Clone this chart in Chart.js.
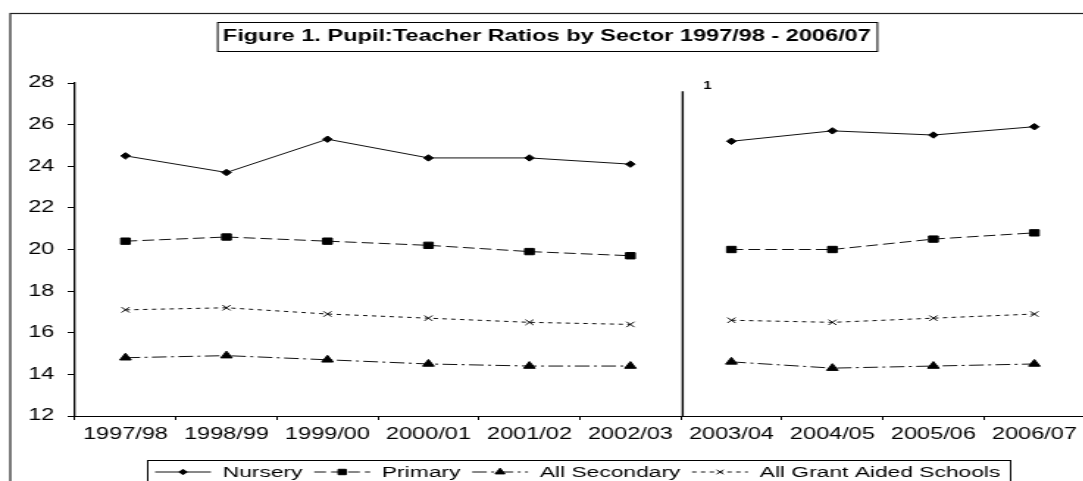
<!DOCTYPE html>
<html>
<head>
<meta charset="utf-8">
<title>Pupil:Teacher Ratios by Sector 1997/98 - 2006/07</title>
<script src="https://cdn.jsdelivr.net/npm/chart.js@4.4.1/dist/chart.umd.min.js"></script>
<style>
  html, body { margin: 0; padding: 0; background: #fff; overflow: hidden; width: 1083px; height: 481px; }
  /* the original figure is stretched sideways, so the chart is drawn narrow and widened */
  .stretch { position: absolute; left: 0; top: 0; width: 750px; height: 481px; transform: scaleX(1.47); transform-origin: 0 0; }
</style>
</head>
<body>
<div class="stretch"><canvas id="chart"></canvas></div>
<script>
const years = ['1997/98', '1998/99', '1999/00', '2000/01', '2001/02', '2002/03', '2003/04', '2004/05', '2005/06', '2006/07'];
const nursery = [24.5, 23.7, 25.3, 24.4, 24.4, 24.1, 25.2, 25.7, 25.5, 25.9];
const primary = [20.4, 20.6, 20.4, 20.2, 19.9, 19.7, 20.0, 20.0, 20.5, 20.8];
const allSecondary = [14.8, 14.9, 14.7, 14.5, 14.4, 14.4, 14.6, 14.3, 14.4, 14.5];
const grantAided = [17.1, 17.2, 16.9, 16.7, 16.5, 16.4, 16.6, 16.5, 16.7, 16.9];
const yTicks = [12, 14, 16, 18, 20, 22, 24, 26, 28];

const titleText = 'Figure 1. Pupil:Teacher Ratios by Sector 1997/98 - 2006/07';
const footnoteMark = '1';
const breakAfter = 5; // series break between 2002/03 and 2003/04
const breakLineTop = 27.6;

const FONT = '"Liberation Sans", Arial, sans-serif';
const INK = '#111';

function lineDataset(label, data, dash, pointStyle, radius) {
  return {
    label,
    data,
    borderColor: INK,
    borderWidth: 1,
    borderDash: dash,
    pointStyle,
    pointRadius: radius,
    pointHoverRadius: radius,
    pointBackgroundColor: '#000',
    pointBorderColor: '#000',
    pointBorderWidth: 1,
    tension: 0,
    segment: {
      borderColor: (ctx) => (ctx.p0DataIndex === breakAfter ? 'transparent' : INK),
    },
  };
}

const frameAndNotes = {
  id: 'frameAndNotes',
  beforeDraw(chart) {
    const { ctx } = chart;
    ctx.save();
    ctx.strokeStyle = '#222';
    ctx.lineWidth = 1.2;
    ctx.strokeRect(7, 13.5, 1000, 1000);
    ctx.restore();
  },
  afterDatasetsDraw(chart) {
    const { ctx, scales, chartArea } = chart;
    const x = (scales.x.getPixelForValue(breakAfter) + scales.x.getPixelForValue(breakAfter + 1)) / 2 + 1.2;
    ctx.save();
    ctx.strokeStyle = '#000';
    ctx.lineWidth = 1.4;
    ctx.beginPath();
    ctx.moveTo(x, scales.y.getPixelForValue(breakLineTop));
    ctx.lineTo(x, chartArea.bottom);
    ctx.stroke();
    ctx.fillStyle = '#000';
    ctx.font = `bold 10px ${FONT}`;
    ctx.textAlign = 'center';
    ctx.textBaseline = 'middle';
    ctx.fillText(footnoteMark, x + 17, 86);
    ctx.restore();
  },
  afterDraw(chart) {
    const { ctx } = chart;
    ctx.save();

    // box round the title
    ctx.font = `bold 16px ${FONT}`;
    const tw = ctx.measureText(titleText).width;
    const cx = (chart.titleBlock.left + chart.titleBlock.right) / 2;
    ctx.strokeStyle = '#000';
    ctx.lineWidth = 1;
    ctx.strokeRect(cx - tw / 2 - 3.5, 22.5, tw + 8, 29);

    // legend along the bottom
    const legendCenter = 393;
    const y = 472;
    const sample = 38;
    const gapAfterSample = 8;
    const gapAfterText = 8;
    ctx.font = `15.5px ${FONT}`;
    const items = chart.data.datasets.map((ds) => ({ ds, w: ctx.measureText(ds.label).width }));
    const total = items.reduce((sum, item) => sum + sample + gapAfterSample + item.w, 0) + gapAfterText * (items.length - 1);
    let x = legendCenter - total / 2;
    ctx.strokeRect(Math.round(x - 6) + 0.5, 460.5, total + 12, 40);

    items.forEach(({ ds, w }) => {
      ctx.strokeStyle = INK;
      ctx.lineWidth = 1;
      ctx.setLineDash(ds.borderDash);
      ctx.beginPath();
      ctx.moveTo(x, y);
      ctx.lineTo(x + sample, y);
      ctx.stroke();
      ctx.setLineDash([]);
      ctx.fillStyle = '#000';
      ctx.strokeStyle = '#000';
      Chart.helpers.drawPoint(ctx, { pointStyle: ds.pointStyle, radius: ds.pointRadius * 0.85, rotation: 0, borderWidth: 1 }, x + sample / 2, y);
      ctx.fillStyle = '#000';
      ctx.textAlign = 'left';
      ctx.textBaseline = 'middle';
      ctx.fillText(ds.label, x + sample + gapAfterSample, y + 1);
      x += sample + gapAfterSample + w + gapAfterText;
    });
    ctx.restore();
  },
};

const tickFont = { family: FONT, size: 16 };

new Chart(document.getElementById('chart'), {
  type: 'line',
  data: {
    labels: years,
    datasets: [
      lineDataset('Nursery', nursery, [], 'rectRot', 3.2),
      lineDataset('Primary', primary, [8, 3.5], 'rect', 4.5),
      lineDataset('All Secondary', allSecondary, [10, 3, 2, 3], 'triangle', 4.5),
      lineDataset('All Grant Aided Schools', grantAided, [3, 3], 'crossRot', 3.8),
    ],
  },
  options: {
    responsive: true,
    maintainAspectRatio: false,
    animation: false,
    layout: { padding: { left: 6, right: 12, top: 0, bottom: 0 } },
    plugins: {
      legend: { display: false },
      tooltip: { enabled: false },
      title: {
        display: true,
        text: titleText,
        color: '#000',
        font: { family: FONT, size: 16, weight: 'bold' },
        padding: { top: 27, bottom: 36.8 },
      },
    },
    scales: {
      x: {
        offset: true,
        grid: { offset: true, drawOnChartArea: false, tickLength: 4, color: '#000', tickColor: '#000' },
        border: { color: '#000', width: 1 },
        ticks: { color: '#000', font: tickFont, padding: 5, maxRotation: 0, autoSkip: false },
        afterFit(scale) {
          scale.height = 65;
        },
      },
      y: {
        min: yTicks[0],
        max: yTicks[yTicks.length - 1],
        afterBuildTicks(scale) {
          scale.ticks = yTicks.map((value) => ({ value }));
        },
        grid: { drawOnChartArea: false, tickLength: 5, color: '#000', tickColor: '#000' },
        border: { color: '#000', width: 1.3 },
        ticks: { color: '#000', font: tickFont, padding: 9 },
        afterFit(scale) {
          scale.width = 45;
        },
      },
    },
  },
  plugins: [frameAndNotes],
});
</script>
</body>
</html>
